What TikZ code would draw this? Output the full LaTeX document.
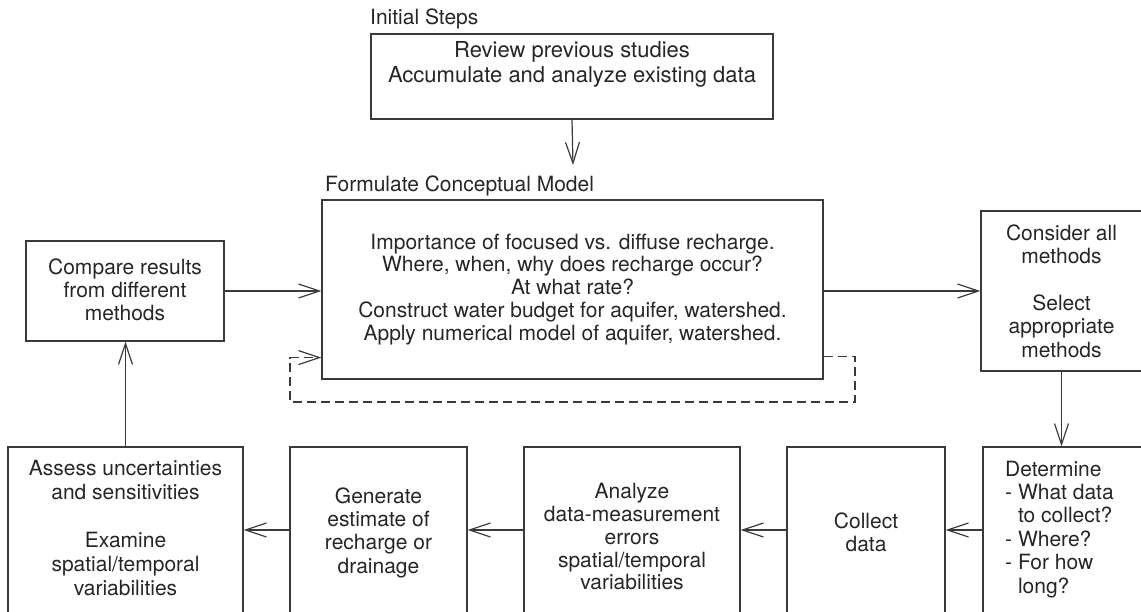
\documentclass[tikz,border=0pt]{standalone}
\usepackage{fontspec}
\setmainfont{TeX Gyre Heros}
\usetikzlibrary{arrows.meta}
\definecolor{ink}{HTML}{262626}
\definecolor{rule}{HTML}{3A3A3A}
\begin{document}
\begin{tikzpicture}[x=1pt,y=-1pt,
  box/.style={draw=rule, line width=1.2pt, rectangle, inner sep=0pt},
  txt/.style={text=ink, inner sep=0pt, align=center, font=\fontsize{21}{23.3}\selectfont},
  heading/.style={text=ink, inner sep=0pt, anchor=base west, font=\fontsize{21}{23.3}\selectfont},
  arr/.style={draw=rule, line width=1.2pt, -{Straight Barb[length=21pt,width=14pt,line width=1.2pt]}},
  feedback/.style={arr, dash pattern=on 9pt off 5pt}]
\useasboundingbox (0,0) rectangle (1141,612);

% boxes
\node[box, minimum width=402pt, minimum height=85pt]  (top)      at (572,76.5)   {};
\node[box, minimum width=501pt, minimum height=179pt] (main)     at (572.5,289.5) {};
\node[box, minimum width=198pt, minimum height=100pt] (compare)  at (125,291)    {};
\node[box, minimum width=161pt, minimum height=160pt] (consider) at (1061.5,291) {};
\node[box, minimum width=159pt, minimum height=166pt] (determine) at (1062.5,530) {};
\node[box, minimum width=158pt, minimum height=166pt] (collect)  at (866,530)    {};
\node[box, minimum width=216pt, minimum height=166pt] (analyze)  at (632,530)    {};
\node[box, minimum width=177pt, minimum height=166pt] (generate) at (378.5,530)  {};
\node[box, minimum width=235pt, minimum height=166pt] (assess)   at (125.5,530)  {};

% headings
\node[heading] (hInit) at (370,25) {Initial Steps};
\node[heading] (hModel) at (325,192) {Formulate Conceptual Model};

% box texts
\node[txt, font=\fontsize{22}{25}\selectfont] (tTop) at (572,64.5)
  {Review previous studies\\Accumulate and analyze existing data};
\node[txt, font=\fontsize{21}{22.75}\selectfont] (tMain) at (572.5,289.2)
  {Importance of focused vs. diffuse recharge.\\
   Where, when, why does recharge occur?\\
   At what rate?\\
   Construct water budget for aquifer, watershed.\\
   Apply numerical model of aquifer, watershed.};
\node[txt] (tCompare) at (125,290) {Compare results\\from different\\methods};
\node[txt, font=\fontsize{21}{23.4}\selectfont] (tConsider) at (1061.5,291)
  {Consider all\\methods\\[23.4pt]Select\\appropriate\\methods};
\node[txt, align=left, anchor=west, font=\fontsize{21}{23.4}\selectfont] (tDetermine) at (1005,529.2)
  {Determine\\- What data\\\phantom{- }to collect?\\- Where?\\- For how\\\phantom{- }long?};
\node[txt] (tCollect) at (866,532.5) {Collect\\data};
\node[txt, font=\fontsize{21}{22.75}\selectfont] (tAnalyze) at (632,537)
  {Analyze\\data-measurement\\errors\\spatial/temporal\\variabilities};
\node[txt] (tGenerate) at (378.5,532.6) {Generate\\estimate of\\recharge or\\drainage};
\node[txt, font=\fontsize{21}{24}\selectfont] (tAssess) at (125.5,528.5)
  {Assess uncertainties\\and sensitivities\\[24pt]Examine\\spatial/temporal\\variabilities};

% connectors
\coordinate (modelIn) at (573,165);
\draw[arr] (top.south) -- (modelIn);
\draw[arr] (compare.east) -- (compare.east -| main.west);
\draw[arr] (main.east |- consider.west) -- (consider.west);
\draw[arr] (consider.south) -- (consider.south |- determine.north);
\draw[arr] (determine.west) -- (collect.east);
\draw[arr] (collect.west) -- (analyze.east);
\draw[arr] (analyze.west) -- (generate.east);
\draw[arr] (generate.west) -- (assess.east);
\draw[arr] (assess.north) -- (assess.north |- compare.south);

% dashed feedback loop around the conceptual model
\coordinate (loopR) at (855,402);
\coordinate (loopL) at (290,402);
\draw[feedback] ([yshift=23pt]main.south east) -| (loopR) -- (loopL) |- ([yshift=22pt]main.south west);
\end{tikzpicture}
\end{document}
